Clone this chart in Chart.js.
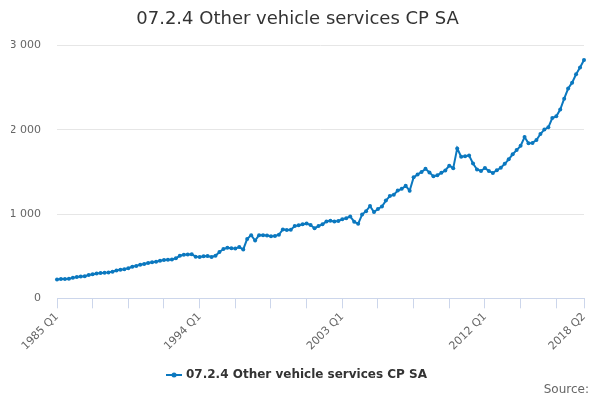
<!DOCTYPE html>
<html>
<head>
<meta charset="utf-8">
<script src="https://cdn.jsdelivr.net/npm/chart.js@4.4.1/dist/chart.umd.min.js"></script>
<style>
  html, body { margin: 0; padding: 0; background: #fff; }
  #wrap { width: 600px; height: 400px; }
</style>
</head>
<body>
<div id="wrap"><canvas id="myChart" width="600" height="400"></canvas></div>
<script>
// Quarterly series, 1985 Q1 to 2018 Q2
var firstYear = 1985;
var values = [
  224, 228, 230, 232,   243, 252, 258, 263,   278, 285, 295, 300,   303, 308, 315, 330,
  338, 345, 358, 375,   385, 398, 408, 420,   428, 435, 445, 455,   458, 462, 475, 505,
  518, 520, 522, 495,   490, 500, 502, 490,   505, 550, 585, 600,   595, 592, 608, 580,
  705, 750, 685, 750,   748, 745, 738, 740,   755, 818, 812, 815,   858, 868, 880, 888,
  870, 832, 858, 878,   912, 920, 912, 918,   938, 952, 972, 910,   885, 995, 1035, 1095,
  1025, 1060, 1090, 1160, 1214, 1230, 1280, 1300, 1335, 1278, 1436, 1470, 1500, 1537, 1495, 1448,
  1462, 1490, 1518, 1575, 1545, 1780, 1680, 1688, 1694, 1600, 1530, 1512, 1548, 1510, 1488, 1520,
  1550, 1597, 1650, 1710, 1760, 1810, 1915, 1840, 1845, 1880, 1950, 2005, 2030, 2140, 2160, 2240,
  2370, 2490, 2560, 2660, 2740, 2830
];
// Labels shown on the x-axis
var shownLabels = ["1985 Q1", "1994 Q1", "2003 Q1", "2012 Q1", "2018 Q2"];
var yTicks = [0, 1000, 2000, 3000];

var quarters = [];
for (var i = 0; i < values.length; i++) {
  quarters.push((firstYear + Math.floor(i / 4)) + " Q" + (i % 4 + 1));
}

var blue = "#0b78bf";
var font = "'DejaVu Sans', Verdana, sans-serif";

// legend symbol: line with a dot, like the original
var sym = document.createElement("canvas");
sym.width = 16; sym.height = 10;
var sc = sym.getContext("2d");
sc.strokeStyle = blue; sc.lineWidth = 2;
sc.beginPath(); sc.moveTo(0, 5); sc.lineTo(16, 5); sc.stroke();
sc.fillStyle = blue;
sc.beginPath(); sc.arc(8, 5, 2.5, 0, Math.PI * 2); sc.fill();

function spaced(v) {
  return String(v).replace(/\B(?=(\d{3})+(?!\d))/g, " ");
}

var sourceText = {
  id: "sourceText",
  afterDraw: function (chart) {
    var c = chart.ctx;
    c.save();
    c.font = "12px " + font;
    c.fillStyle = "#666666";
    c.textAlign = "right";
    c.textBaseline = "middle";
    c.fillText("Source:", 589, 390);
    c.restore();
  }
};

var ctx = document.getElementById("myChart");
var myChart = new Chart(ctx, {
  type: "line",
  data: {
    labels: quarters,
    datasets: [
      {
        label: "07.2.4 Other vehicle services CP SA",
        data: values,
        borderColor: blue,
        backgroundColor: blue,
        borderWidth: 2,
        pointRadius: 2,
        pointHoverRadius: 3,
        pointBackgroundColor: blue,
        pointBorderWidth: 0,
        tension: 0,
        fill: false
      }
    ]
  },
  options: {
    responsive: false,
    animation: false,
    layout: { padding: { left: 11, right: 16, top: 0, bottom: 9 } },
    plugins: {
      title: {
        display: true,
        text: "07.2.4 Other vehicle services CP SA",
        color: "#333333",
        font: { family: font, size: 18, weight: "normal" },
        padding: { top: 9, bottom: 15 }
      },
      legend: {
        position: "bottom",
        labels: {
          usePointStyle: true,
          pointStyle: sym,
          color: "#333333",
          font: { family: font, size: 12, weight: "bold" },
          padding: 14
        }
      },
      tooltip: { enabled: false }
    },
    scales: {
      x: {
        offset: false,
        border: { color: "#ccd6eb", width: 1 },
        grid: {
          drawOnChartArea: false,
          drawTicks: true,
          tickLength: 10,
          tickColor: function (c) {
            return (c.index % 9 === 0 || c.index === values.length - 1) ? "#ccd6eb" : "rgba(0,0,0,0)";
          }
        },
        afterFit: function (scale) {
          // let the first rotated label hang into the left margin
          scale.paddingLeft = 0;
        },
        ticks: {
          autoSkip: false,
          maxRotation: 45,
          minRotation: 45,
          color: "#666666",
          font: { family: font, size: 11 },
          padding: 2,
          callback: function (v, idx) {
            var q = quarters[idx];
            return shownLabels.indexOf(q) >= 0 ? q : "";
          }
        }
      },
      y: {
        min: 0,
        max: 3000,
        afterBuildTicks: function (axis) {
          axis.ticks = yTicks.map(function (v) { return { value: v }; });
        },
        afterFit: function (scale) {
          scale.width = 46;
        },
        border: { display: false },
        grid: { color: "#e6e6e6", drawTicks: false },
        ticks: {
          color: "#666666",
          font: { family: font, size: 11 },
          padding: 16,
          callback: function (v) { return spaced(v); }
        }
      }
    }
  },
  plugins: [sourceText]
});
</script>
</body>
</html>
